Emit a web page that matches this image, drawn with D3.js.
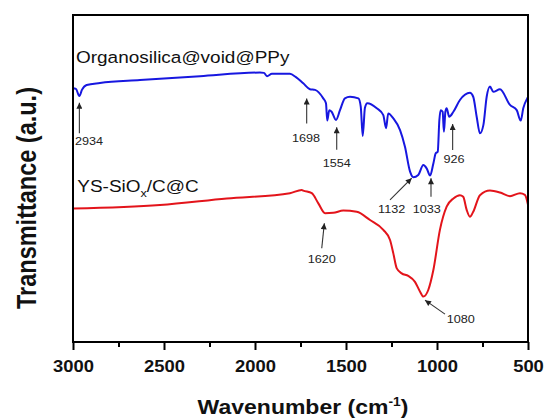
<!DOCTYPE html>
<html><head><meta charset="utf-8">
<script src="https://cdn.jsdelivr.net/npm/d3@7"></script>
<style>body{margin:0;background:#fff}svg{display:block}text{font-family:"Liberation Sans",Arial,sans-serif}</style>
</head><body>
<svg id="c" width="547" height="419"></svg>
<script>
// ---------- data ----------
const blueName = "Organosilica@void@PPy";
const blueWn = [3000,2984,2965,2951,2925,2852,2632,2302,1973,1951,1934,1907,1835,1808,1775,1735,1698,1670,1625,1610,1603,1592,1579,1555,1533,1506,1478,1432,1419,1408,1396,1383,1331,1295,1280,1268,1240,1203,1176,1148,1130,1103,1075,1057,1038,1020,1007,996,987,980,969,962,954,947,933,910,874,819,801,782,764,745,727,709,691,654,599,562,540,526,504,500];
const blueT  = [77.6,77.4,75.2,77.1,78.6,79.2,80.1,81.3,82.4,82.3,81.3,82.0,82.0,82.0,81.0,79.1,77.3,77.1,74.5,73.0,67.7,70.9,70.4,67.9,70.9,74.5,75.0,74.5,72.0,63.0,71.6,73.0,71.5,69.4,65.4,69.9,68.4,64.8,59.7,52.1,50.4,51.1,54.1,53.1,50.9,54.6,57.7,58.2,67.9,70.9,70.4,64.3,70.4,71.5,68.9,70.4,74.0,76.2,75.0,68.9,63.8,66.4,75.0,78.1,76.5,77.3,72.5,70.9,67.7,71.5,74.5,74.9];
const redName = ["YS-SiO","x","/C@C"];
const redWn = [3000,2522,2155,1808,1743,1735,1688,1652,1615,1570,1515,1441,1368,1295,1258,1240,1221,1194,1158,1121,1093,1075,1048,1020,984,947,910,874,856,837,819,801,764,709,654,599,544,517,500];
const redT  = [40.8,41.9,43.9,45.5,46.5,46.3,45.5,42.4,39.4,39.5,40.2,39.8,37.3,34.3,31.2,27.1,22.5,21.0,20.2,18.4,15.4,13.9,15.9,22.0,34.3,41.4,43.9,44.9,44.4,40.4,38.3,39.8,44.9,46.3,45.7,44.6,45.5,45.0,42.0];
const xMajorTicks = [3000,2500,2000,1500,1000,500];
const xMinorTicks = [2750,2250,1750,1250,750];
const annText = ["2934","1698","1554","1132","1033","926","1620","1080"];
const annWn   = [2965,1716,1551,1139,1033,914,1619,1066];
const annT    = [73.2,74.5,65.7,50.1,50.1,66.7,36.3,12.8];
// layout (pixel offsets of arrow tail and label from arrow head)
const annLayout = [
  {tx:0,ty:30.6,lx:9.7,ly:42},
  {tx:0,ty:25,lx:-0.7,ly:43.4},
  {tx:0,ty:22.7,lx:0,ly:40},
  {tx:-21.7,ty:21.7,lx:-20,ly:35},
  {tx:0,ty:18.5,lx:-4.3,ly:35},
  {tx:0,ty:26,lx:1.3,ly:39.3},
  {tx:-2.6,ty:25,lx:-2.6,ly:40},
  {tx:20,ty:14,lx:35.7,ly:23.3}
];

// ---------- chart ----------
const L=73, R=528, T=15, B=342, SX=1.15;
const svg = d3.select("#c");
const x = d3.scaleLinear().domain([3000,500]).range([L,R]);
const y = d3.scaleLinear().domain([0,100]).range([B,T]);

const line = d3.line().x(d=>x(d[0])).y(d=>y(d[1])).curve(d3.curveMonotoneX);
const blue = blueWn.map((w,i)=>[w,blueT[i]]);
const red = redWn.map((w,i)=>[w,redT[i]]);

svg.append("path").datum(red).attr("d",line).attr("fill","none").attr("stroke","#e3141b").attr("stroke-width",2);
svg.append("path").datum(blue).attr("d",line).attr("fill","none").attr("stroke","#1717e0").attr("stroke-width",2);

// axis
const axis = d3.axisBottom(x).tickValues(xMajorTicks).tickSize(8).tickSizeOuter(0).tickFormat(d3.format("d"));
const ga = svg.append("g").attr("transform",`translate(0,${B})`).call(axis);
ga.select(".domain").remove();
ga.selectAll(".tick line").attr("stroke","#000").attr("stroke-width",2);
ga.selectAll(".tick text").attr("y",29.7).attr("dy",0).attr("fill","#111")
  .style("font-size","16px").style("font-weight","bold").attr("font-family","Liberation Sans, Arial, sans-serif")
  .attr("transform",`scale(${SX},1)`);
const gm = svg.append("g").attr("transform",`translate(0,${B})`)
  .call(d3.axisBottom(x).tickValues(xMinorTicks).tickSize(5).tickSizeOuter(0).tickFormat(""));
gm.select(".domain").remove();
gm.selectAll(".tick line").attr("stroke","#000").attr("stroke-width",2);

// frame
svg.append("rect").attr("x",L).attr("y",T).attr("width",R-L).attr("height",B-T)
  .attr("fill","none").attr("stroke","#000").attr("stroke-width",2);

// titles
const xt = svg.append("text").attr("transform",`translate(303,414) scale(${SX},1)`)
  .attr("text-anchor","middle").style("font-size","20px").style("font-weight","bold").attr("fill","#111");
xt.append("tspan").text("Wavenumber (cm");
xt.append("tspan").text("-1").style("font-size","12px").attr("dy",-8);
xt.append("tspan").text(")").attr("dy",8);
svg.append("text").attr("transform",`translate(36,198) scale(${SX},1) rotate(-90)`)
  .attr("text-anchor","middle").style("font-size","23.5px").style("font-weight","bold").attr("fill","#111")
  .text("Transmittance (a.u.)");

// series labels
svg.append("text").attr("transform",`translate(76,63.3) scale(${SX},1)`).style("font-size","16.5px").attr("fill","#111").text(blueName);
const rl = svg.append("text").attr("transform",`translate(77.3,192.3) scale(${SX},1)`).style("font-size","16.5px").attr("fill","#111");
rl.append("tspan").text(redName[0]);
rl.append("tspan").text(redName[1]).style("font-size","11px").attr("dy",5);
rl.append("tspan").text(redName[2]).attr("dy",-5);

// arrows
svg.append("defs").append("marker").attr("id","ah").attr("viewBox","0 0 10 10").attr("refX",10).attr("refY",5)
  .attr("markerWidth",7).attr("markerHeight",6).attr("markerUnits","userSpaceOnUse").attr("orient","auto")
  .append("path").attr("d","M0,0L10,5L0,10Z").attr("fill","#222");
annText.forEach((t,i)=>{
  const hx=x(annWn[i]), hy=y(annT[i]), o=annLayout[i];
  svg.append("line").attr("x1",hx+o.tx).attr("y1",hy+o.ty).attr("x2",hx).attr("y2",hy)
    .attr("stroke","#333").attr("stroke-width",1.1).attr("marker-end","url(#ah)");
  svg.append("text").attr("transform",`translate(${hx+o.lx},${hy+o.ly}) scale(${SX},1)`)
    .attr("text-anchor","middle").style("font-size","11px").attr("fill","#222").text(t);
});
</script>
</body></html>
